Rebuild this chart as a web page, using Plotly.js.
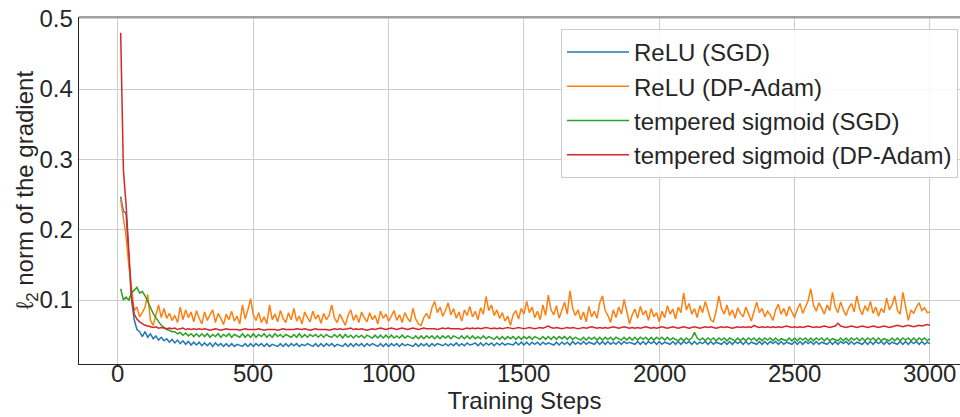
<!DOCTYPE html>
<html>
<head>
<meta charset="utf-8">
<script src="https://cdn.plot.ly/plotly-3.0.1.min.js"></script>
<style>
html,body{margin:0;padding:0;overflow:hidden;background:#fff;width:960px;height:417px;}
#chart{width:975px;height:417px;}
</style>
</head>
<body>
<div id="chart"></div>
<script>
const seriesNames = ["ReLU (SGD)", "ReLU (DP-Adam)", "tempered sigmoid (SGD)", "tempered sigmoid (DP-Adam)"];
const seriesColors = ["#1f77b4", "#ff7f0e", "#2ca02c", "#d62728"];

const steps = [
10,20,30,40,50,60,70,80,90,100,
110,120,130,140,150,160,170,180,190,200,
210,220,230,240,250,260,270,280,290,300,
310,320,330,340,350,360,370,380,390,400,
410,420,430,440,450,460,470,480,490,500,
510,520,530,540,550,560,570,580,590,600,
610,620,630,640,650,660,670,680,690,700,
710,720,730,740,750,760,770,780,790,800,
810,820,830,840,850,860,870,880,890,900,
910,920,930,940,950,960,970,980,990,1000,
1010,1020,1030,1040,1050,1060,1070,1080,1090,1100,
1110,1120,1130,1140,1150,1160,1170,1180,1190,1200,
1210,1220,1230,1240,1250,1260,1270,1280,1290,1300,
1310,1320,1330,1340,1350,1360,1370,1380,1390,1400,
1410,1420,1430,1440,1450,1460,1470,1480,1490,1500,
1510,1520,1530,1540,1550,1560,1570,1580,1590,1600,
1610,1620,1630,1640,1650,1660,1670,1680,1690,1700,
1710,1720,1730,1740,1750,1760,1770,1780,1790,1800,
1810,1820,1830,1840,1850,1860,1870,1880,1890,1900,
1910,1920,1930,1940,1950,1960,1970,1980,1990,2000,
2010,2020,2030,2040,2050,2060,2070,2080,2090,2100,
2110,2120,2130,2140,2150,2160,2170,2180,2190,2200,
2210,2220,2230,2240,2250,2260,2270,2280,2290,2300,
2310,2320,2330,2340,2350,2360,2370,2380,2390,2400,
2410,2420,2430,2440,2450,2460,2470,2480,2490,2500,
2510,2520,2530,2540,2550,2560,2570,2580,2590,2600,
2610,2620,2630,2640,2650,2660,2670,2680,2690,2700,
2710,2720,2730,2740,2750,2760,2770,2780,2790,2800,
2810,2820,2830,2840,2850,2860,2870,2880,2890,2900,
2910,2920,2930,2940,2950,2960,2970,2980,2990,3000];

const reluSGD = [
0.247,0.226,0.223,0.160,0.100,0.072,0.058,0.055,0.048,0.055,
0.047,0.052,0.045,0.049,0.043,0.047,0.042,0.045,0.040,0.044,
0.039,0.043,0.038,0.042,0.037,0.041,0.036,0.040,0.036,0.040,
0.035,0.039,0.035,0.039,0.034,0.039,0.035,0.038,0.034,0.038,
0.034,0.038,0.034,0.037,0.036,0.034,0.038,0.034,0.038,0.034,
0.038,0.035,0.038,0.034,0.038,0.034,0.037,0.036,0.034,0.038,
0.034,0.038,0.034,0.038,0.035,0.038,0.034,0.037,0.035,0.038,
0.036,0.034,0.038,0.034,0.038,0.034,0.038,0.035,0.038,0.034,
0.037,0.036,0.034,0.038,0.034,0.038,0.034,0.038,0.035,0.038,
0.034,0.038,0.035,0.038,0.036,0.034,0.038,0.034,0.038,0.034,
0.038,0.035,0.038,0.034,0.038,0.035,0.037,0.036,0.034,0.038,
0.034,0.038,0.035,0.038,0.034,0.038,0.035,0.038,0.036,0.035,
0.038,0.035,0.038,0.035,0.039,0.035,0.038,0.035,0.039,0.036,
0.037,0.039,0.035,0.039,0.035,0.039,0.036,0.039,0.035,0.039,
0.036,0.039,0.036,0.038,0.037,0.036,0.040,0.036,0.040,0.036,
0.040,0.036,0.040,0.037,0.040,0.036,0.040,0.037,0.039,0.038,
0.036,0.040,0.036,0.040,0.037,0.040,0.036,0.041,0.037,0.040,
0.037,0.041,0.037,0.040,0.038,0.037,0.041,0.037,0.041,0.037,
0.041,0.037,0.040,0.037,0.041,0.037,0.041,0.038,0.040,0.038,
0.037,0.041,0.037,0.041,0.037,0.041,0.038,0.041,0.037,0.041,
0.037,0.040,0.038,0.037,0.041,0.037,0.041,0.037,0.041,0.038,
0.041,0.037,0.041,0.037,0.040,0.038,0.041,0.037,0.041,0.037,
0.040,0.038,0.037,0.041,0.037,0.041,0.037,0.041,0.038,0.041,
0.037,0.041,0.037,0.040,0.038,0.037,0.041,0.037,0.041,0.037,
0.041,0.038,0.041,0.037,0.041,0.037,0.040,0.038,0.037,0.041,
0.037,0.041,0.037,0.041,0.038,0.041,0.037,0.041,0.037,0.040,
0.038,0.037,0.041,0.037,0.041,0.037,0.041,0.038,0.041,0.037,
0.041,0.037,0.040,0.038,0.037,0.041,0.037,0.041,0.037,0.041,
0.038,0.041,0.037,0.041,0.037,0.040,0.038,0.037,0.041,0.037,
0.041,0.037,0.041,0.038,0.041,0.037,0.041,0.037,0.040,0.038];

const reluDPAdam = [
0.243,0.215,0.190,0.150,0.115,0.085,0.090,0.076,0.082,0.090,
0.108,0.071,0.064,0.080,0.093,0.075,0.088,0.074,0.081,0.071,
0.078,0.068,0.090,0.072,0.086,0.075,0.083,0.069,0.085,0.074,
0.066,0.083,0.071,0.079,0.086,0.068,0.081,0.074,0.065,0.080,
0.072,0.084,0.070,0.077,0.066,0.093,0.073,0.086,0.102,0.079,
0.071,0.082,0.068,0.076,0.066,0.093,0.072,0.080,0.069,0.085,
0.074,0.068,0.082,0.072,0.088,0.070,0.077,0.066,0.083,0.075,
0.069,0.084,0.073,0.079,0.067,0.081,0.072,0.078,0.093,0.074,
0.068,0.080,0.073,0.064,0.078,0.086,0.071,0.079,0.068,0.083,
0.075,0.069,0.082,0.072,0.078,0.066,0.084,0.074,0.080,0.070,
0.077,0.085,0.071,0.079,0.068,0.082,0.074,0.069,0.088,0.073,
0.066,0.064,0.075,0.081,0.073,0.089,0.098,0.082,0.090,0.077,
0.085,0.096,0.079,0.088,0.074,0.083,0.070,0.086,0.078,0.091,
0.076,0.084,0.072,0.089,0.080,0.105,0.085,0.093,0.078,0.086,
0.074,0.082,0.070,0.077,0.064,0.079,0.085,0.073,0.088,0.080,
0.098,0.082,0.090,0.075,0.084,0.072,0.093,0.078,0.107,0.086,
0.079,0.092,0.074,0.085,0.097,0.080,0.113,0.088,0.078,0.086,
0.072,0.083,0.069,0.091,0.076,0.084,0.074,0.096,0.106,0.085,
0.078,0.068,0.086,0.075,0.090,0.080,0.101,0.084,0.066,0.079,
0.087,0.074,0.091,0.079,0.085,0.071,0.088,0.076,0.082,0.069,
0.084,0.075,0.092,0.080,0.087,0.073,0.090,0.082,0.110,0.086,
0.095,0.080,0.088,0.075,0.092,0.082,0.098,0.085,0.072,0.069,
0.084,0.106,0.088,0.080,0.093,0.078,0.086,0.074,0.089,0.081,
0.076,0.090,0.079,0.070,0.084,0.097,0.082,0.088,0.076,0.084,
0.079,0.071,0.086,0.094,0.080,0.088,0.077,0.091,0.083,0.075,
0.087,0.095,0.081,0.090,0.099,0.116,0.092,0.084,0.096,0.088,
0.080,0.093,0.085,0.111,0.090,0.082,0.097,0.086,0.078,0.089,
0.095,0.083,0.106,0.088,0.079,0.092,0.084,0.098,0.081,0.090,
0.077,0.088,0.082,0.103,0.086,0.093,0.106,0.085,0.080,0.111,
0.092,0.071,0.086,0.081,0.090,0.096,0.085,0.089,0.082,0.083];

const tempSGD = [
0.116,0.100,0.104,0.100,0.110,0.114,0.118,0.110,0.112,0.106,
0.097,0.088,0.081,0.075,0.069,0.064,0.061,0.058,0.057,0.055,
0.055,0.052,0.054,0.050,0.053,0.049,0.052,0.048,0.052,0.048,
0.052,0.048,0.052,0.047,0.051,0.048,0.052,0.047,0.051,0.048,
0.052,0.047,0.051,0.049,0.047,0.052,0.047,0.051,0.047,0.052,
0.047,0.051,0.048,0.052,0.047,0.051,0.047,0.052,0.048,0.051,
0.047,0.051,0.049,0.047,0.051,0.047,0.052,0.047,0.051,0.047,
0.051,0.048,0.051,0.047,0.051,0.047,0.051,0.048,0.047,0.051,
0.047,0.051,0.046,0.051,0.047,0.050,0.046,0.050,0.047,0.050,
0.046,0.050,0.048,0.046,0.050,0.046,0.050,0.046,0.050,0.046,
0.050,0.046,0.049,0.046,0.050,0.046,0.049,0.047,0.045,0.049,
0.045,0.049,0.045,0.049,0.046,0.049,0.045,0.049,0.045,0.049,
0.046,0.049,0.045,0.049,0.047,0.045,0.049,0.045,0.049,0.045,
0.049,0.045,0.048,0.045,0.049,0.045,0.048,0.046,0.044,0.048,
0.044,0.048,0.044,0.048,0.045,0.048,0.044,0.048,0.044,0.048,
0.045,0.048,0.044,0.048,0.046,0.044,0.048,0.044,0.048,0.044,
0.048,0.044,0.048,0.045,0.048,0.044,0.048,0.044,0.047,0.045,
0.043,0.047,0.043,0.047,0.044,0.047,0.043,0.047,0.043,0.047,
0.044,0.047,0.043,0.047,0.045,0.043,0.047,0.043,0.047,0.043,
0.047,0.043,0.047,0.044,0.047,0.043,0.047,0.043,0.047,0.044,
0.047,0.043,0.047,0.043,0.046,0.044,0.042,0.046,0.042,0.046,
0.043,0.046,0.054,0.046,0.043,0.046,0.042,0.046,0.043,0.046,
0.042,0.046,0.043,0.046,0.042,0.046,0.044,0.042,0.046,0.042,
0.046,0.042,0.046,0.043,0.046,0.042,0.046,0.042,0.046,0.043,
0.046,0.042,0.046,0.042,0.045,0.043,0.042,0.046,0.042,0.046,
0.042,0.046,0.043,0.046,0.042,0.046,0.042,0.046,0.043,0.046,
0.042,0.046,0.042,0.045,0.043,0.042,0.046,0.042,0.046,0.042,
0.046,0.043,0.046,0.042,0.046,0.042,0.046,0.043,0.046,0.042,
0.046,0.042,0.045,0.043,0.042,0.046,0.042,0.046,0.042,0.046,
0.043,0.046,0.042,0.046,0.042,0.046,0.043,0.046,0.042,0.045];

const tempDPAdam = [
0.480,0.285,0.235,0.160,0.105,0.080,0.073,0.069,0.066,0.064,
0.063,0.062,0.061,0.062,0.060,0.061,0.060,0.059,0.060,0.059,
0.060,0.058,0.059,0.060,0.058,0.059,0.058,0.059,0.058,0.059,
0.058,0.059,0.058,0.057,0.058,0.059,0.058,0.057,0.058,0.059,
0.058,0.058,0.059,0.058,0.057,0.058,0.059,0.058,0.058,0.057,
0.058,0.059,0.058,0.057,0.058,0.058,0.059,0.058,0.057,0.058,
0.059,0.058,0.058,0.057,0.058,0.059,0.058,0.058,0.059,0.058,
0.057,0.058,0.059,0.058,0.058,0.059,0.058,0.057,0.058,0.059,
0.058,0.059,0.058,0.058,0.059,0.060,0.058,0.059,0.058,0.059,
0.058,0.057,0.058,0.059,0.058,0.059,0.060,0.059,0.058,0.059,
0.060,0.059,0.058,0.059,0.060,0.059,0.058,0.059,0.060,0.059,
0.058,0.059,0.060,0.059,0.059,0.060,0.059,0.058,0.059,0.060,
0.059,0.060,0.059,0.059,0.060,0.059,0.058,0.059,0.060,0.059,
0.060,0.059,0.060,0.059,0.060,0.061,0.060,0.059,0.060,0.059,
0.060,0.059,0.060,0.061,0.060,0.059,0.060,0.061,0.060,0.059,
0.060,0.061,0.060,0.059,0.060,0.061,0.060,0.061,0.063,0.061,
0.060,0.061,0.060,0.059,0.060,0.061,0.060,0.061,0.060,0.059,
0.060,0.061,0.060,0.061,0.062,0.061,0.060,0.061,0.060,0.061,
0.060,0.061,0.062,0.061,0.060,0.061,0.062,0.061,0.060,0.061,
0.060,0.061,0.060,0.061,0.062,0.061,0.060,0.061,0.060,0.061,
0.062,0.061,0.060,0.061,0.062,0.061,0.060,0.061,0.062,0.061,
0.060,0.061,0.062,0.061,0.060,0.061,0.062,0.061,0.062,0.061,
0.060,0.061,0.062,0.061,0.062,0.061,0.060,0.061,0.062,0.061,
0.062,0.061,0.062,0.061,0.064,0.062,0.061,0.062,0.061,0.062,
0.061,0.062,0.061,0.062,0.061,0.062,0.063,0.062,0.061,0.062,
0.061,0.062,0.061,0.062,0.063,0.062,0.061,0.062,0.061,0.062,
0.063,0.062,0.061,0.062,0.063,0.067,0.063,0.062,0.061,0.062,
0.063,0.062,0.061,0.062,0.063,0.062,0.061,0.062,0.063,0.062,
0.061,0.062,0.063,0.062,0.061,0.062,0.063,0.064,0.063,0.062,
0.063,0.064,0.063,0.062,0.063,0.064,0.063,0.064,0.065,0.064];

const xTickVals = [0, 500, 1000, 1500, 2000, 2500, 3000];
const xTickText = ["0", "500", "1000", "1500", "2000", "2500", "3000"];
const yTickVals = [0.1, 0.2, 0.3, 0.4, 0.5];
const yTickText = ["0.1", "0.2", "0.3", "0.4", "0.5"];
const xTitle = "Training Steps";
const yTitle = "ℓ<sub>2</sub> norm of the gradient";

const allSeries = [reluSGD, reluDPAdam, tempSGD, tempDPAdam];
const traces = allSeries.map((ys, i) => ({
  type: "scatter",
  mode: "lines",
  x: steps,
  y: ys,
  name: seriesNames[i],
  line: {color: seriesColors[i], width: 1.5},
  hoverinfo: "skip"
}));

const FONT = "Liberation Sans, Arial, Helvetica, sans-serif";
const FS = 24;
const TXT = "#262626";

const annotations = xTickVals.map((v, i) => ({
  x: v, xref: "x", y: 0, yref: "paper",
  text: xTickText[i], showarrow: false,
  xanchor: "center", yanchor: "top", yshift: 6,
  font: {family: FONT, size: FS, color: TXT}
}));
annotations.push({
  x: 0, xref: "paper", y: 0.5, yref: "paper",
  text: yTitle, showarrow: false, textangle: -90,
  xanchor: "center", yanchor: "middle", xshift: -53,
  font: {family: FONT, size: FS, color: TXT}
});

const layout = {
  width: 975,
  height: 417,
  margin: {l: 79, r: 5, t: 17, b: 53, pad: 0},
  paper_bgcolor: "#ffffff",
  plot_bgcolor: "#ffffff",
  font: {family: FONT, size: FS, color: TXT},
  showlegend: true,
  legend: {
    x: 0.9865, y: 0.9654, xanchor: "right", yanchor: "top",
    bgcolor: "rgba(255,255,255,0.85)",
    bordercolor: "#cccccc", borderwidth: 1,
    font: {family: FONT, size: FS, color: TXT},
    itemwidth: 62
  },
  xaxis: {
    range: [-144, 3148],
    tickvals: xTickVals,
    showticklabels: false,
    showgrid: true, gridcolor: "#cccccc", gridwidth: 1,
    zeroline: false,
    showline: true, linecolor: TXT, linewidth: 1.3,
    ticks: "", ticklen: 0,
    title: {text: xTitle, font: {family: FONT, size: FS, color: TXT}, standoff: 28}
  },
  yaxis: {
    range: [0.009, 0.5025],
    tickvals: yTickVals,
    ticktext: yTickText,
    showgrid: true, gridcolor: "#cccccc", gridwidth: 1,
    zeroline: false,
    showline: true, linecolor: TXT, linewidth: 1.3,
    ticks: "", ticklen: 0,
    tickfont: {family: FONT, size: FS, color: TXT}
  },
  annotations: annotations,
  shapes: [
    {type: "line", xref: "paper", yref: "paper", x0: 0, x1: 1, y0: 1, y1: 1,
     line: {color: "#444444", width: 1}}
  ]
};

Plotly.newPlot("chart", traces, layout, {displayModeBar: false, staticPlot: true});
</script>
</body>
</html>
